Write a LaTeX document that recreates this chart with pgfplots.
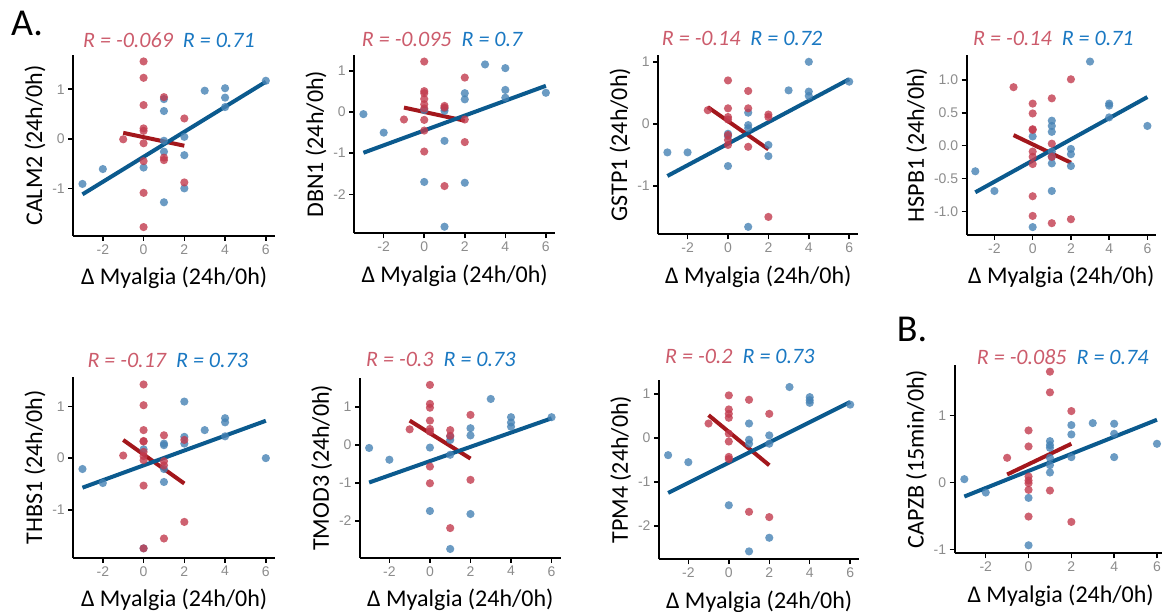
\documentclass[border=0pt]{standalone}
\usepackage{fontspec}
\setmainfont{Carlito}
\newfontfamily\tickfont{Liberation Sans}
\usepackage{pgfplots}
\pgfplotsset{compat=1.18}

\definecolor{ptred}{HTML}{C23B4E}
\definecolor{ptblue}{HTML}{4682B4}
\definecolor{lnred}{HTML}{A3171C}
\definecolor{lnblue}{HTML}{0B5A8E}
\definecolor{txred}{HTML}{CC5C6C}
\definecolor{txblue}{HTML}{1A78C2}
\definecolor{tickgray}{HTML}{8C8C8C}

\pgfplotsset{
  panel/.style={
    scale only axis, anchor=south west,
    axis x line*=bottom, axis y line*=left,
    axis line style={line width=2pt, -},
    tick align=outside, major tick length=5pt,
    tick style={black, line width=1.5pt},
    xmin=-3.45, xmax=6.45, xtick={-2,0,2,4,6},
    scaled ticks=false,
    ticklabel style={font=\tickfont\fontsize{14}{16}\selectfont, text=tickgray},
    /pgf/number format/assume math mode=true,
    label style={font=\fontsize{24}{28}\selectfont},
    xlabel style={yshift=-6pt},
    xlabel={Δ Myalgia (24h/0h)},
  },
  bpts/.style={only marks, mark=*, mark size=4.1pt, color=ptblue,
    mark options={solid, fill=ptblue, draw opacity=0, fill opacity=0.8}},
  rpts/.style={only marks, mark=*, mark size=4.1pt, color=ptred,
    mark options={solid, fill=ptred, draw opacity=0, fill opacity=0.8}},
  rln/.style={no marks, lnred, line width=4pt},
  bln/.style={no marks, lnblue, line width=4pt},
}

% R annotations above each panel
\newcommand{\Rlab}[4]{%
  \node[anchor=west, inner sep=0pt, font=\fontsize{22}{26}\selectfont\itshape]
    at (#1,#2) {\textcolor{txred}{R = #3}\hspace{10pt}\textcolor{txblue}{R = #4}};}

\begin{document}
\begin{tikzpicture}[x=1pt, y=1pt]
\useasboundingbox (0,0) rectangle (1162,612);

% ---- CALM2
\begin{axis}[panel, at={(73.3pt,376pt)}, width=201.7pt, height=181pt,
  ymin=-1.96, ymax=1.69, ytick={-1,0,1}, ylabel={CALM2 (24h/0h)}]
\addplot[bpts] coordinates {(-3,-0.91) (-2,-0.61) (0,-0.58) (1,0.80) (1,0.56) (1,-0.04) (1,-0.26) (1,-1.28) (2,0.04) (2,-0.33) (2,-1.0) (3,0.97) (4,1.02) (4,0.83) (4,0.64) (6,1.17)};
\addplot[rpts] coordinates {(-1,-0.01) (0,1.56) (0,1.23) (0,0.68) (0,0.21) (0,0.16) (0,-0.09) (0,-0.45) (0,-1.09) (0,-1.78) (1,0.84) (1,-0.38) (1,-0.43) (2,0.41) (2,-0.88)};
\addplot[rln] coordinates {(-1,0.12) (2,-0.14)};
\addplot[bln] coordinates {(-3,-1.12) (6,1.15)};
\end{axis}

% ---- DBN1
\begin{axis}[panel, at={(354.3pt,378.7pt)}, width=200.7pt, height=178.3pt,
  ymin=-2.95, ymax=1.39, ytick={-2,-1,0,1}, ylabel={DBN1 (24h/0h)}]
\addplot[bpts] coordinates {(-3,-0.05) (-2,-0.5) (0,0.05) (0,-1.70) (1,0.09) (1,0.03) (1,-0.70) (1,-2.79) (2,0.46) (2,0.31) (2,-1.72) (3,1.16) (4,1.07) (4,0.54) (4,0.35) (6,0.47)};
\addplot[rpts] coordinates {(-1,-0.18) (0,1.23) (0,0.51) (0,0.46) (0,0.32) (0,0.19) (0,0.09) (0,-0.19) (0,-0.45) (0,-0.96) (1,0.15) (1,0.11) (1,-1.80) (2,0.84) (2,-0.18) (2,-0.73)};
\addplot[rln] coordinates {(-1,0.11) (2,-0.21)};
\addplot[bln] coordinates {(-3,-0.99) (6,0.64)};
\end{axis}

% ---- GSTP1
\begin{axis}[panel, at={(658.3pt,377.7pt)}, width=200pt, height=179.3pt,
  ymin=-1.78, ymax=1.11, ytick={-1,0,1}, ylabel={GSTP1 (24h/0h)}]
\addplot[bpts] coordinates {(-3,-0.46) (-2,-0.46) (0,-0.16) (0,-0.2) (0,-0.68) (1,0.18) (1,-0.02) (1,-0.07) (1,-1.66) (2,-0.34) (2,-0.52) (3,0.54) (4,1.0) (4,0.52) (4,0.45) (6,0.68)};
\addplot[rpts] coordinates {(-1,0.22) (0,0.70) (0,0.25) (0,0.11) (0,0.07) (0,-0.18) (0,-0.26) (0,-0.34) (1,0.53) (1,0.25) (1,-0.37) (2,0.15) (2,0.11) (2,-1.50)};
\addplot[rln] coordinates {(-1,0.27) (2,-0.41)};
\addplot[bln] coordinates {(-3,-0.84) (6,0.72)};
\end{axis}

% ---- HSPB1
\begin{axis}[panel, at={(966.7pt,377pt)}, width=189.3pt, height=180pt,
  ymin=-1.36, ymax=1.38, ytick={-1,-0.5,0,0.5,1}, ylabel={HSPB1 (24h/0h)},
  yticklabel style={/pgf/number format/fixed, /pgf/number format/fixed zerofill, /pgf/number format/precision=1}]
\addplot[bpts] coordinates {(-3,-0.39) (-2,-0.69) (0,0.14) (0,-1.24) (1,0.38) (1,0.30) (1,0.21) (1,-0.09) (1,-0.17) (1,-0.27) (1,-0.69) (2,-0.05) (2,-0.13) (2,-0.31) (3,1.28) (4,0.64) (4,0.61) (4,0.43) (6,0.30)};
\addplot[rpts] coordinates {(-1,0.89) (0,0.64) (0,0.49) (0,0.25) (0,0.24) (0,-0.09) (0,-0.17) (0,-0.28) (0,-0.77) (0,-1.07) (1,0.72) (1,0.03) (1,-0.17) (1,-1.18) (2,1.01) (2,-1.12)};
\addplot[rln] coordinates {(-1,0.16) (2,-0.26)};
\addplot[bln] coordinates {(-3,-0.71) (6,0.74)};
\end{axis}

% ---- THBS1
\begin{axis}[panel, at={(73.3pt,54.3pt)}, width=201.7pt, height=181pt,
  ymin=-1.92, ymax=1.57, ytick={-1,0,1}, ylabel={THBS1 (24h/0h)}]
\addplot[bpts] coordinates {(-3,-0.21) (-2,-0.48) (0,0.17) (0,-1.74) (1,0.28) (1,0.25) (1,-0.21) (1,-0.46) (2,1.09) (2,0.41) (2,0.28) (3,0.54) (4,0.77) (4,0.69) (4,0.42) (6,0.0)};
\addplot[rpts] coordinates {(-1,0.05) (0,1.42) (0,1.02) (0,0.54) (0,0.33) (0,0.32) (0,0.12) (0,0.04) (0,-0.04) (0,-0.53) (0,-1.74) (1,0.44) (1,-0.06) (1,-0.14) (1,-1.55) (2,0.35) (2,-1.23)};
\addplot[rln] coordinates {(-1,0.35) (2,-0.49)};
\addplot[bln] coordinates {(-3,-0.57) (6,0.72)};
\end{axis}

% ---- TMOD3
\begin{axis}[panel, at={(360pt,54.3pt)}, width=200.7pt, height=180pt,
  ymin=-2.97, ymax=1.77, ytick={-2,-1,0,1}, ylabel={TMOD3 (24h/0h)}]
\addplot[bpts] coordinates {(-3,-0.08) (-2,-0.39) (0,-0.07) (0,-1.74) (1,0.22) (1,0.13) (1,-0.26) (1,-2.74) (2,0.44) (2,0.25) (2,-1.82) (3,1.21) (4,0.73) (4,0.59) (4,0.48) (6,0.73)};
\addplot[rpts] coordinates {(-1,0.41) (0,1.58) (0,1.08) (0,0.98) (0,0.64) (0,0.42) (0,0.35) (0,-0.57) (0,-1.01) (1,0.39) (1,0.24) (1,-2.19) (2,0.79) (2,-0.92)};
\addplot[rln] coordinates {(-1,0.64) (2,-0.36)};
\addplot[bln] coordinates {(-3,-0.99) (6,0.70)};
\end{axis}

% ---- TPM4
\begin{axis}[panel, at={(659pt,52.7pt)}, width=200.3pt, height=179.3pt,
  ymin=-2.76, ymax=1.32, ytick={-2,-1,0,1}, ylabel={TPM4 (24h/0h)}]
\addplot[bpts] coordinates {(-3,-0.39) (-2,-0.55) (0,-1.53) (1,0.33) (1,-0.04) (1,-0.13) (1,-2.58) (2,0.06) (2,-0.13) (2,-2.27) (3,1.16) (4,0.93) (4,0.86) (4,0.80) (6,0.76)};
\addplot[rpts] coordinates {(-1,0.33) (0,0.97) (0,0.65) (0,0.55) (0,0.46) (0,0.10) (0,-0.08) (0,-0.43) (0,-0.48) (1,0.87) (1,-1.68) (2,0.55) (2,-1.80)};
\addplot[rln] coordinates {(-1,0.52) (2,-0.62)};
\addplot[bln] coordinates {(-3,-1.25) (6,0.82)};
\end{axis}

% ---- CAPZB
\begin{axis}[panel, at={(954.7pt,58.7pt)}, width=211.9pt, height=188.3pt,
  ymin=-1.06, ymax=1.76, ytick={-1,0,1}, ylabel={CAPZB (15min/0h)}]
\addplot[bpts] coordinates {(-3,0.05) (-2,-0.15) (0,-0.23) (0,-0.94) (1,0.62) (1,0.56) (1,0.52) (1,0.37) (1,0.26) (1,0.15) (2,0.86) (2,0.72) (2,0.38) (3,0.89) (4,0.88) (4,0.73) (4,0.38) (6,0.58)};
\addplot[rpts] coordinates {(-1,0.37) (0,0.78) (0,0.54) (0,0.09) (0,0.03) (0,-0.01) (0,-0.11) (0,-0.51) (1,1.66) (1,1.35) (1,-0.12) (2,1.07) (2,-0.59)};
\addplot[rln] coordinates {(-1,0.12) (2,0.58)};
\addplot[bln] coordinates {(-3,-0.21) (6,0.94)};
\end{axis}

\Rlab{83}{572}{-0.069}{0.71}
\Rlab{361.7}{572.7}{-0.095}{0.7}
\Rlab{661.7}{573.7}{-0.14}{0.72}
\Rlab{973}{573.7}{-0.14}{0.71}
\Rlab{87.3}{252}{-0.17}{0.73}
\Rlab{366}{252.7}{-0.3}{0.73}
\Rlab{665}{255.3}{-0.2}{0.73}
\Rlab{976.7}{255.3}{-0.085}{0.74}

\node[font=\fontsize{38}{42}\selectfont] at (27,589) {A.};
\node[font=\fontsize{38}{42}\selectfont] at (912,283) {B.};
\end{tikzpicture}
\end{document}
